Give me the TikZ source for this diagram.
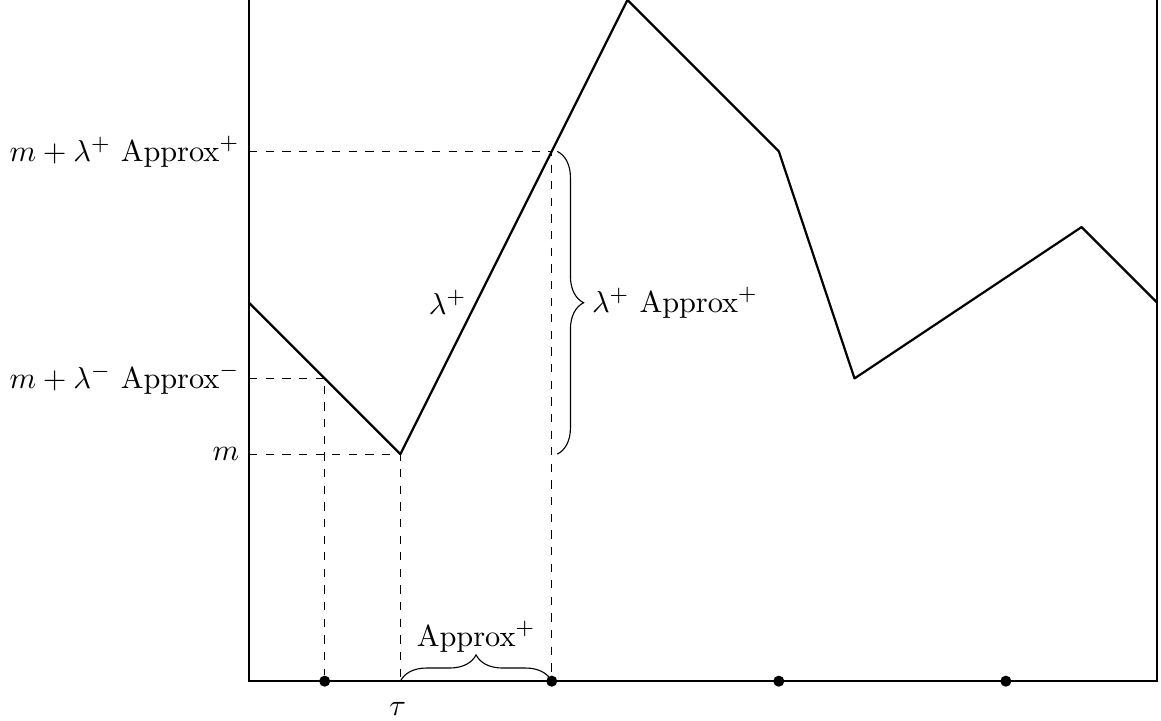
\documentclass[tikz,border=0pt]{standalone}
\usetikzlibrary{decorations.pathreplacing}

\begin{document}
\begin{tikzpicture}[
x=0.96cm, y=0.96cm,
font=\fontsize{10.95}{13.1}\selectfont,
axis/.style={thick},
curve/.style={thick, line join=round},
guide/.style={dashed},
dot/.style={circle, fill, inner sep=0pt, minimum size=4pt},
bracebox/.style={decorate, decoration={brace, amplitude=9.5pt}}
]
\useasboundingbox (-3.29,-0.52) rectangle (12.05,9);

% --- Cadre ---
\coordinate (o) at (0,0);
\coordinate (ltop) at (0,9);
\coordinate (r) at (12,0);
\coordinate (rtop) at (12,9);
\draw[axis] (ltop) -- (o) -- (r) -- (rtop);

% --- Courbe ---
\coordinate (c0) at (0,5);
\coordinate (c1) at (1,4);
\coordinate (c2) at (2,3);
\coordinate (c3) at (4,7);
\coordinate (c4) at (5,9);
\coordinate (c5) at (7,7);
\coordinate (c6) at (8,4);
\coordinate (c7) at (11,6);
\coordinate (c8) at (12,5);
\draw[curve] (c0) -- (c2) -- (c4) -- (c5) -- (c6) -- (c7) -- (c8);

% --- Points sur l'axe ---
\node[dot] (d1) at (1,0) {};
\node[dot] (d2) at (4,0) {};
\node[dot] (d3) at (7,0) {};
\node[dot] (d4) at (10,0) {};
\coordinate (t) at (2,0);
\node[below=4pt, xshift=-1pt] (taulabel) at (t) {$\tau$};

% --- Niveaux ---
\node[left] (ym) at (0,3) {$m$};
\node[left] (ylow) at (0,4) {$m+\lambda^-\ \mathrm{Approx}^-$};
\node[left] (yhigh) at (0,7) {$m+\lambda^+\ \mathrm{Approx}^+$};
\draw[guide] (ym.east) -- (c2) -- (t);
\draw[guide] (ylow.east) -- (c1) -- (d1);
\draw[guide] (yhigh.east) -- (c3) -- (d2);

% --- Accolades ---
\draw[bracebox] (t) -- (d2.center) node[midway, above=7pt] (hlabel) {$\mathrm{Approx}^+$};
\draw[bracebox] ([xshift=2pt]c3) -- ([xshift=2pt]c2 -| c3) node[midway, right=9pt] (vlabel) {$\lambda^+\ \mathrm{Approx}^+$};
\node[left] (slope) at (3,5) {$\lambda^+$};

\end{tikzpicture}
\end{document}
